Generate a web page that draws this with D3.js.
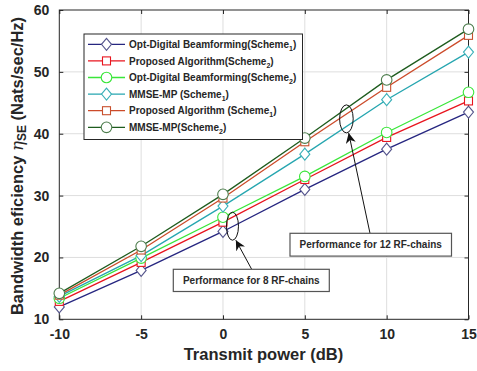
<!DOCTYPE html>
<html><head><meta charset="utf-8">
<script src="https://cdn.jsdelivr.net/npm/d3@7"></script>
<style>body{margin:0;background:#fff} svg{display:block;font-family:"Liberation Sans",Arial,sans-serif}</style>
</head><body><svg id="c" width="477" height="371"></svg>
<script>
// ---- data ----
const xValues = [-10, -5, 0, 5, 10, 15];
const optDigitalS1 = [12.0, 17.9, 24.2, 31.0, 37.5, 43.5];
const proposedS2   = [12.9, 19.2, 25.7, 32.6, 39.4, 45.3];
const optDigitalS2 = [13.4, 19.9, 26.5, 33.1, 40.2, 46.7];
const mmseS1       = [13.7, 20.3, 28.3, 36.7, 45.5, 53.2];
const proposedS1   = [13.9, 21.2, 29.6, 38.7, 47.5, 55.9];
const mmseS2       = [14.2, 21.8, 30.2, 39.3, 48.7, 56.9];
const xTicks = [-10, -5, 0, 5, 10, 15];
const yTicks = [10, 20, 30, 40, 50, 60];
const legendLabels = [
  ["Opt-Digital Beamforming(Scheme", "1", ")"],
  ["Proposed Algorithm(Scheme", "2", ")"],
  ["Opt-Digital Beamforming(Scheme", "2", ")"],
  ["MMSE-MP (Scheme", "1", ")"],
  ["Proposed Algorithm (Scheme", "1", ")"],
  ["MMSE-MP(Scheme", "2", ")"]
];
const annotations = [
  {text: "Performance for 8 RF-chains", ex: 0.58, ey: 25.05},
  {text: "Performance for 12 RF-chains", ex: 7.54, ey: 42.4}
];

// ---- styles ----
const styles = [
  {values: optDigitalS1, line: "#262680", mark: "#55558c", shape: "diamond"},
  {values: proposedS2,   line: "#e8141e", mark: "#e8141e", shape: "square"},
  {values: optDigitalS2, line: "#3ae63a", mark: "#3ae63a", shape: "circle"},
  {values: mmseS1,       line: "#26a6b0", mark: "#3ab0b8", shape: "diamond"},
  {values: proposedS1,   line: "#cc4b2a", mark: "#c8502e", shape: "square"},
  {values: mmseS2,       line: "#1e5c1e", mark: "#4d7d4d", shape: "circle"}
];

const svg = d3.select("#c");
const L = 59.3, R = 468.5, T = 10, B = 319.3;
const x = d3.scaleLinear().domain([-10, 15]).range([L, R]);
const y = d3.scaleLinear().domain([10, 60]).range([B, T]);
const fmt = d => String(d);

// grid
const g = svg.append("g");
g.selectAll(".gx").data(xTicks.slice(1, -1)).join("line")
  .attr("x1", d => x(d)).attr("x2", d => x(d)).attr("y1", T).attr("y2", B)
  .attr("stroke", "#dedede").attr("stroke-width", 1);
g.selectAll(".gy").data(yTicks.slice(1, -1)).join("line")
  .attr("y1", d => y(d)).attr("y2", d => y(d)).attr("x1", L).attr("x2", R)
  .attr("stroke", "#dedede").attr("stroke-width", 1);

// axes (ticks inside)
const tickStyle = sel => {
  sel.select(".domain").remove();
  sel.selectAll("line").attr("stroke", "#262626");
  sel.selectAll("text").attr("fill", "#262626").attr("font-weight", "bold").attr("font-size", 14);
};
svg.append("g").attr("transform", `translate(0,${B})`)
  .call(d3.axisBottom(x).tickValues(xTicks).tickSize(-4).tickPadding(10).tickFormat(fmt))
  .attr("font-family", null).call(tickStyle)
  .selectAll("text").attr("dy", "0.71em");
svg.append("g").attr("transform", `translate(0,${T})`)
  .call(d3.axisTop(x).tickValues(xTicks).tickSize(-4).tickFormat(""))
  .call(tickStyle);
svg.append("g").attr("transform", `translate(${L},0)`)
  .call(d3.axisLeft(y).tickValues(yTicks).tickSize(-4).tickPadding(10).tickFormat(fmt))
  .attr("font-family", null).call(tickStyle);
svg.append("g").attr("transform", `translate(${R},0)`)
  .call(d3.axisRight(y).tickValues(yTicks).tickSize(-4).tickFormat(""))
  .call(tickStyle);
svg.append("rect").attr("x", L).attr("y", T).attr("width", R - L).attr("height", B - T)
  .attr("fill", "none").attr("stroke", "#262626").attr("stroke-width", 1);

// markers
function drawMarker(sel, shape, color) {
  if (shape === "diamond") {
    sel.append("path").attr("d", "M0,-6L5,0L0,6L-5,0Z");
  } else if (shape === "square") {
    sel.append("rect").attr("x", -4).attr("y", -4).attr("width", 8).attr("height", 8);
  } else {
    sel.append("circle").attr("r", 5.3);
  }
  sel.selectAll("*").attr("fill", "white").attr("stroke", color).attr("stroke-width", 1.1);
}

const line = d3.line().x((d, i) => x(xValues[i])).y(d => y(d));
styles.forEach(s => {
  svg.append("path").datum(s.values).attr("d", line)
    .attr("fill", "none").attr("stroke", s.line).attr("stroke-width", 1.3);
});
styles.forEach(s => {
  s.values.forEach((v, i) => {
    const m = svg.append("g").attr("transform", `translate(${x(xValues[i])},${y(v)})`);
    drawMarker(m, s.shape, s.mark);
  });
});

// legend
const lg = svg.append("g");
lg.append("rect").attr("x", 84).attr("y", 34).attr("width", 218.5).attr("height", 105.5)
  .attr("fill", "white").attr("stroke", "#262626").attr("stroke-width", 1);
styles.forEach((s, i) => {
  const yy = 44.3 + i * 16.6;
  lg.append("line").attr("x1", 88).attr("x2", 125).attr("y1", yy).attr("y2", yy)
    .attr("stroke", s.line).attr("stroke-width", 1.3);
  const m = lg.append("g").attr("transform", `translate(106.5,${yy})`);
  drawMarker(m, s.shape, s.mark);
  const t = lg.append("text").attr("x", 129).attr("y", yy + 3.6)
    .attr("font-size", 10).attr("font-weight", "bold").attr("fill", "#262626");
  t.append("tspan").text(legendLabels[i][0]);
  t.append("tspan").attr("font-size", 7).attr("dy", 3).text(legendLabels[i][1]);
  t.append("tspan").attr("dy", -3).text(legendLabels[i][2]);
});

// annotations
const defs = svg.append("defs");
defs.append("marker").attr("id", "ah").attr("viewBox", "0 0 10 10").attr("refX", 10).attr("refY", 5)
  .attr("markerWidth", 10).attr("markerHeight", 10).attr("markerUnits", "userSpaceOnUse").attr("orient", "auto")
  .append("path").attr("d", "M0,0L10,5L0,10L3,5Z").attr("fill", "#111");

const boxes = [
  {x: 173.3, y: 269.3, w: 156, h: 22.2, ax: 251.7, ay: 269.3, dx: 3.4, dy: 14},
  {x: 290, y: 233.3, w: 161.5, h: 22.8, ax: 370, ay: 233.3, dx: 2.3, dy: 14.2}
];
annotations.forEach((a, i) => {
  const b = boxes[i];
  const cx = x(a.ex), cy = y(a.ey);
  svg.append("ellipse").attr("cx", cx).attr("cy", cy).attr("rx", i === 0 ? 6 : 6.8).attr("ry", 14)
    .attr("fill", "none").attr("stroke", "#111").attr("stroke-width", 1);
  svg.append("line").attr("x1", b.ax).attr("y1", b.ay).attr("x2", cx + b.dx).attr("y2", cy + b.dy)
    .attr("stroke", "#111").attr("stroke-width", 1).attr("marker-end", "url(#ah)");
  svg.append("rect").attr("x", b.x).attr("y", b.y).attr("width", b.w).attr("height", b.h)
    .attr("fill", "white").attr("stroke", "#555").attr("stroke-width", 1.2);
  svg.append("text").attr("x", b.x + b.w / 2).attr("y", b.y + b.h / 2 + 3.6).attr("text-anchor", "middle")
    .attr("font-size", 10).attr("font-weight", "bold").attr("fill", "#2a2a2a").text(a.text);
});

// axis titles
svg.append("text").attr("x", (L + R) / 2 - 0.5).attr("y", 360).attr("text-anchor", "middle")
  .attr("font-size", 16.5).attr("font-weight", "bold").attr("fill", "#262626").text("Transmit power (dB)");
const yl = svg.append("text").attr("transform", "translate(22.7,166) rotate(-90)").attr("text-anchor", "middle")
  .attr("font-size", 16.5).attr("font-weight", "bold").attr("fill", "#262626");
yl.append("tspan").text("Bandwidth eficiency ");
yl.append("tspan").attr("font-style", "italic").attr("font-weight", "normal").attr("font-family", "'DejaVu Serif',serif").text("η");
yl.append("tspan").attr("font-size", 12).attr("dy", 3).text("SE");
yl.append("tspan").attr("dy", -3).text(" (Nats/sec/Hz)");
</script></body></html>
